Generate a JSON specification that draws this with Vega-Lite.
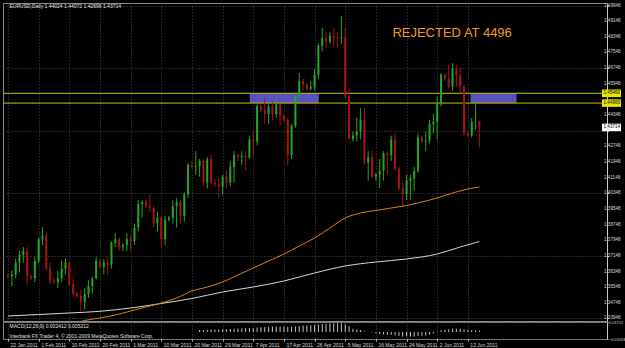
{
  "$schema": "https://vega.github.io/schema/vega-lite/v6.json",
  "background": "#000000",
  "padding": {"left": 2, "top": 2, "right": 0, "bottom": 0},
  "spacing": 1,
  "bounds": "flush",
  "config": {
    "view": {"stroke": "#8a8a8a", "strokeWidth": 1},
    "font": "Liberation Sans",
    "axis": {"labelFont": "Liberation Sans", "labelFontSize": 4.6, "labelColor": "#d8d8d8", "tickColor": "#c8c8c8", "domainColor": "#c8c8c8", "gridColor": "#4a4a4a", "gridDash": [1, 2], "gridWidth": 1, "title": null, "minExtent": 0, "labelOverlap": false, "labelBound": false}
  },
  "datasets": {
    "candles": [
      {"i":0,"o":1.3614,"h":1.3625,"l":1.36,"c":1.361},
      {"i":1,"o":1.361,"h":1.364,"l":1.356,"c":1.362},
      {"i":2,"o":1.362,"h":1.37,"l":1.36,"c":1.368},
      {"i":3,"o":1.368,"h":1.374,"l":1.363,"c":1.372},
      {"i":4,"o":1.372,"h":1.376,"l":1.368,"c":1.374},
      {"i":5,"o":1.374,"h":1.376,"l":1.357,"c":1.361},
      {"i":6,"o":1.361,"h":1.362,"l":1.359,"c":1.36},
      {"i":7,"o":1.36,"h":1.371,"l":1.358,"c":1.369},
      {"i":8,"o":1.369,"h":1.381,"l":1.368,"c":1.38},
      {"i":9,"o":1.38,"h":1.3862,"l":1.377,"c":1.382},
      {"i":10,"o":1.382,"h":1.3835,"l":1.364,"c":1.365},
      {"i":11,"o":1.365,"h":1.368,"l":1.357,"c":1.359},
      {"i":12,"o":1.359,"h":1.36,"l":1.357,"c":1.358},
      {"i":13,"o":1.358,"h":1.364,"l":1.355,"c":1.36},
      {"i":14,"o":1.36,"h":1.369,"l":1.358,"c":1.365},
      {"i":15,"o":1.365,"h":1.37,"l":1.362,"c":1.368},
      {"i":16,"o":1.368,"h":1.369,"l":1.356,"c":1.357},
      {"i":17,"o":1.357,"h":1.36,"l":1.351,"c":1.352},
      {"i":18,"o":1.352,"h":1.353,"l":1.35,"c":1.351},
      {"i":19,"o":1.351,"h":1.354,"l":1.343,"c":1.348},
      {"i":20,"o":1.348,"h":1.355,"l":1.344,"c":1.352},
      {"i":21,"o":1.352,"h":1.359,"l":1.35,"c":1.356},
      {"i":22,"o":1.356,"h":1.361,"l":1.352,"c":1.36},
      {"i":23,"o":1.36,"h":1.371,"l":1.3595,"c":1.369},
      {"i":24,"o":1.369,"h":1.37,"l":1.365,"c":1.366},
      {"i":25,"o":1.366,"h":1.37,"l":1.362,"c":1.368},
      {"i":26,"o":1.368,"h":1.371,"l":1.362,"c":1.367},
      {"i":27,"o":1.367,"h":1.379,"l":1.365,"c":1.378},
      {"i":28,"o":1.378,"h":1.383,"l":1.376,"c":1.38},
      {"i":29,"o":1.38,"h":1.381,"l":1.374,"c":1.376},
      {"i":30,"o":1.376,"h":1.378,"l":1.374,"c":1.377},
      {"i":31,"o":1.377,"h":1.383,"l":1.374,"c":1.38},
      {"i":32,"o":1.38,"h":1.382,"l":1.374,"c":1.379},
      {"i":33,"o":1.379,"h":1.388,"l":1.377,"c":1.386},
      {"i":34,"o":1.386,"h":1.4,"l":1.384,"c":1.398},
      {"i":35,"o":1.398,"h":1.4,"l":1.391,"c":1.399},
      {"i":36,"o":1.399,"h":1.4,"l":1.396,"c":1.397},
      {"i":37,"o":1.397,"h":1.403,"l":1.394,"c":1.396},
      {"i":38,"o":1.396,"h":1.397,"l":1.386,"c":1.388},
      {"i":39,"o":1.388,"h":1.394,"l":1.384,"c":1.391},
      {"i":40,"o":1.391,"h":1.392,"l":1.376,"c":1.38},
      {"i":41,"o":1.38,"h":1.392,"l":1.377,"c":1.39},
      {"i":42,"o":1.39,"h":1.392,"l":1.389,"c":1.391},
      {"i":43,"o":1.391,"h":1.4,"l":1.388,"c":1.397},
      {"i":44,"o":1.397,"h":1.401,"l":1.386,"c":1.399},
      {"i":45,"o":1.399,"h":1.4,"l":1.388,"c":1.392},
      {"i":46,"o":1.392,"h":1.404,"l":1.389,"c":1.403},
      {"i":47,"o":1.403,"h":1.419,"l":1.401,"c":1.418},
      {"i":48,"o":1.418,"h":1.42,"l":1.416,"c":1.417},
      {"i":49,"o":1.417,"h":1.425,"l":1.413,"c":1.4175},
      {"i":50,"o":1.4175,"h":1.421,"l":1.412,"c":1.42},
      {"i":51,"o":1.42,"h":1.421,"l":1.407,"c":1.409},
      {"i":52,"o":1.409,"h":1.422,"l":1.406,"c":1.421},
      {"i":53,"o":1.421,"h":1.423,"l":1.408,"c":1.409},
      {"i":54,"o":1.409,"h":1.411,"l":1.407,"c":1.408},
      {"i":55,"o":1.408,"h":1.411,"l":1.401,"c":1.407},
      {"i":56,"o":1.407,"h":1.413,"l":1.403,"c":1.412},
      {"i":57,"o":1.412,"h":1.415,"l":1.406,"c":1.409},
      {"i":58,"o":1.409,"h":1.42,"l":1.407,"c":1.417},
      {"i":59,"o":1.417,"h":1.425,"l":1.409,"c":1.423},
      {"i":60,"o":1.423,"h":1.424,"l":1.42,"c":1.422},
      {"i":61,"o":1.422,"h":1.425,"l":1.418,"c":1.4225},
      {"i":62,"o":1.4225,"h":1.425,"l":1.415,"c":1.4218},
      {"i":63,"o":1.4218,"h":1.433,"l":1.421,"c":1.431},
      {"i":64,"o":1.431,"h":1.435,"l":1.422,"c":1.43},
      {"i":65,"o":1.43,"h":1.449,"l":1.428,"c":1.448},
      {"i":66,"o":1.448,"h":1.449,"l":1.445,"c":1.446},
      {"i":67,"o":1.446,"h":1.452,"l":1.439,"c":1.444},
      {"i":68,"o":1.444,"h":1.449,"l":1.439,"c":1.448},
      {"i":69,"o":1.448,"h":1.45,"l":1.441,"c":1.444},
      {"i":70,"o":1.444,"h":1.452,"l":1.442,"c":1.449},
      {"i":71,"o":1.449,"h":1.4495,"l":1.438,"c":1.443},
      {"i":72,"o":1.443,"h":1.444,"l":1.44,"c":1.441},
      {"i":73,"o":1.441,"h":1.442,"l":1.418,"c":1.423},
      {"i":74,"o":1.423,"h":1.439,"l":1.421,"c":1.438},
      {"i":75,"o":1.438,"h":1.455,"l":1.437,"c":1.453},
      {"i":76,"o":1.453,"h":1.465,"l":1.452,"c":1.461},
      {"i":77,"o":1.461,"h":1.462,"l":1.456,"c":1.459},
      {"i":78,"o":1.459,"h":1.46,"l":1.456,"c":1.457},
      {"i":79,"o":1.457,"h":1.461,"l":1.456,"c":1.458},
      {"i":80,"o":1.458,"h":1.467,"l":1.456,"c":1.464},
      {"i":81,"o":1.464,"h":1.48,"l":1.462,"c":1.479},
      {"i":82,"o":1.479,"h":1.488,"l":1.476,"c":1.483},
      {"i":83,"o":1.483,"h":1.486,"l":1.478,"c":1.481},
      {"i":84,"o":1.481,"h":1.486,"l":1.48,"c":1.484},
      {"i":85,"o":1.484,"h":1.488,"l":1.478,"c":1.483},
      {"i":86,"o":1.483,"h":1.486,"l":1.478,"c":1.4826},
      {"i":87,"o":1.4826,"h":1.494,"l":1.48,"c":1.4831},
      {"i":88,"o":1.4831,"h":1.488,"l":1.452,"c":1.453},
      {"i":89,"o":1.453,"h":1.457,"l":1.431,"c":1.4312},
      {"i":90,"o":1.4312,"h":1.435,"l":1.43,"c":1.433},
      {"i":91,"o":1.433,"h":1.442,"l":1.43,"c":1.435},
      {"i":92,"o":1.435,"h":1.447,"l":1.431,"c":1.441},
      {"i":93,"o":1.441,"h":1.447,"l":1.418,"c":1.419},
      {"i":94,"o":1.419,"h":1.425,"l":1.41,"c":1.422},
      {"i":95,"o":1.422,"h":1.425,"l":1.411,"c":1.412},
      {"i":96,"o":1.412,"h":1.414,"l":1.41,"c":1.413},
      {"i":97,"o":1.413,"h":1.421,"l":1.406,"c":1.415},
      {"i":98,"o":1.415,"h":1.425,"l":1.41,"c":1.424},
      {"i":99,"o":1.424,"h":1.425,"l":1.413,"c":1.423},
      {"i":100,"o":1.423,"h":1.433,"l":1.42,"c":1.431},
      {"i":101,"o":1.431,"h":1.434,"l":1.415,"c":1.416},
      {"i":102,"o":1.416,"h":1.417,"l":1.405,"c":1.406},
      {"i":103,"o":1.406,"h":1.409,"l":1.397,"c":1.403},
      {"i":104,"o":1.403,"h":1.413,"l":1.4,"c":1.41},
      {"i":105,"o":1.41,"h":1.413,"l":1.4,"c":1.411},
      {"i":106,"o":1.411,"h":1.417,"l":1.405,"c":1.415},
      {"i":107,"o":1.415,"h":1.434,"l":1.414,"c":1.432},
      {"i":108,"o":1.432,"h":1.433,"l":1.429,"c":1.43},
      {"i":109,"o":1.43,"h":1.435,"l":1.425,"c":1.4305},
      {"i":110,"o":1.4305,"h":1.441,"l":1.429,"c":1.439},
      {"i":111,"o":1.439,"h":1.444,"l":1.434,"c":1.44},
      {"i":112,"o":1.44,"h":1.453,"l":1.431,"c":1.449},
      {"i":113,"o":1.449,"h":1.465,"l":1.448,"c":1.464},
      {"i":114,"o":1.464,"h":1.465,"l":1.461,"c":1.462},
      {"i":115,"o":1.462,"h":1.469,"l":1.457,"c":1.458},
      {"i":116,"o":1.458,"h":1.47,"l":1.456,"c":1.467},
      {"i":117,"o":1.467,"h":1.469,"l":1.458,"c":1.464},
      {"i":118,"o":1.464,"h":1.468,"l":1.455,"c":1.458},
      {"i":119,"o":1.458,"h":1.459,"l":1.433,"c":1.434},
      {"i":120,"o":1.434,"h":1.435,"l":1.432,"c":1.433},
      {"i":121,"o":1.433,"h":1.442,"l":1.432,"c":1.44},
      {"i":122,"o":1.44,"h":1.449,"l":1.436,"c":1.44024},
      {"i":123,"o":1.44024,"h":1.44072,"l":1.42696,"c":1.43714}
    ],
    "ma": [
      {"s":"o","i":12,"v":1.33309},{"s":"o","i":20,"v":1.33846},{"s":"o","i":24,"v":1.33974},{"s":"o","i":28,"v":1.34127},
      {"s":"o","i":32,"v":1.34331},{"s":"o","i":36,"v":1.34536},{"s":"o","i":40,"v":1.3474},{"s":"o","i":44,"v":1.34996},
      {"s":"o","i":48,"v":1.35354},{"s":"o","i":52,"v":1.35558},{"s":"o","i":56,"v":1.35814},{"s":"o","i":60,"v":1.36172},
      {"s":"o","i":64,"v":1.3653},{"s":"o","i":68,"v":1.36887},{"s":"o","i":72,"v":1.37245},{"s":"o","i":76,"v":1.37654},
      {"s":"o","i":80,"v":1.38063},{"s":"o","i":84,"v":1.38574},{"s":"o","i":88,"v":1.39085},{"s":"o","i":92,"v":1.39341},
      {"s":"o","i":96,"v":1.39469},{"s":"o","i":100,"v":1.39597},{"s":"o","i":104,"v":1.39724},{"s":"o","i":108,"v":1.39903},
      {"s":"o","i":112,"v":1.40108},{"s":"o","i":116,"v":1.40363},{"s":"o","i":120,"v":1.40568},{"s":"o","i":123,"v":1.4067},
      {"s":"w","i":0,"v":1.34076},{"s":"w","i":8,"v":1.34152},{"s":"w","i":16,"v":1.34229},{"s":"w","i":24,"v":1.34316},
      {"s":"w","i":32,"v":1.34485},{"s":"w","i":40,"v":1.34715},{"s":"w","i":48,"v":1.3497},{"s":"w","i":56,"v":1.35303},
      {"s":"w","i":64,"v":1.35558},{"s":"w","i":72,"v":1.35865},{"s":"w","i":80,"v":1.36274},{"s":"w","i":88,"v":1.36632},
      {"s":"w","i":96,"v":1.36836},{"s":"w","i":104,"v":1.3699},{"s":"w","i":112,"v":1.37245},{"s":"w","i":118,"v":1.37603},
      {"s":"w","i":123,"v":1.37884}
    ],
    "macd": [
      {"i":50,"m":0.0035},{"i":51,"m":0.0038},{"i":52,"m":0.0042},{"i":53,"m":0.0044},{"i":54,"m":0.0045},{"i":55,"m":0.0046},
      {"i":56,"m":0.0048},{"i":57,"m":0.005},{"i":58,"m":0.0052},{"i":59,"m":0.0056},{"i":60,"m":0.006},{"i":61,"m":0.0062},
      {"i":62,"m":0.0064},{"i":63,"m":0.0068},{"i":64,"m":0.007},{"i":65,"m":0.0078},{"i":66,"m":0.0084},{"i":67,"m":0.0088},
      {"i":68,"m":0.0092},{"i":69,"m":0.0094},{"i":70,"m":0.0097},{"i":71,"m":0.0097},{"i":72,"m":0.0096},{"i":73,"m":0.009},
      {"i":74,"m":0.009},{"i":75,"m":0.0096},{"i":76,"m":0.0105},{"i":77,"m":0.011},{"i":78,"m":0.0113},{"i":79,"m":0.0116},
      {"i":80,"m":0.012},{"i":81,"m":0.013},{"i":82,"m":0.0138},{"i":83,"m":0.0143},{"i":84,"m":0.0147},{"i":85,"m":0.015},
      {"i":86,"m":0.015},{"i":87,"m":0.015},{"i":88,"m":0.0135},{"i":89,"m":0.0105},{"i":90,"m":0.0055},{"i":91,"m":0.004},
      {"i":92,"m":0.0035},{"i":93,"m":0.0012},{"i":94,"m":0.0004},{"i":95,"m":-0.0005},{"i":96,"m":-0.0025},{"i":97,"m":-0.0035},
      {"i":98,"m":-0.004},{"i":99,"m":-0.0045},{"i":100,"m":-0.005},{"i":101,"m":-0.0058},{"i":102,"m":-0.0065},{"i":103,"m":-0.0072},
      {"i":104,"m":-0.0075},{"i":105,"m":-0.0075},{"i":106,"m":-0.0072},{"i":107,"m":-0.0065},{"i":108,"m":-0.006},{"i":109,"m":-0.0055},
      {"i":110,"m":-0.0045},{"i":111,"m":-0.0025},{"i":112,"m":0.001},{"i":113,"m":0.003},{"i":114,"m":0.004},{"i":115,"m":0.005},
      {"i":116,"m":0.0056},{"i":117,"m":0.0058},{"i":118,"m":0.0056},{"i":119,"m":0.005},{"i":120,"m":0.0042},{"i":121,"m":0.0035},
      {"i":122,"m":0.003},{"i":123,"m":0.0024}
    ],
    "yticks": [
      {"p":1.33948,"t":"1.33948"},{"p":1.34748,"t":"1.34748"},{"p":1.35548,"t":"1.35548"},{"p":1.36348,"t":"1.36348"},
      {"p":1.37148,"t":"1.37148"},{"p":1.37948,"t":"1.37948"},{"p":1.38748,"t":"1.38748"},{"p":1.39548,"t":"1.39548"},
      {"p":1.40348,"t":"1.40348"},{"p":1.41148,"t":"1.41148"},{"p":1.41948,"t":"1.41948"},{"p":1.42748,"t":"1.42748"},
      {"p":1.44348,"t":"1.44348"},{"p":1.45948,"t":"1.45948"},{"p":1.46748,"t":"1.46748"},{"p":1.47548,"t":"1.47548"},
      {"p":1.48348,"t":"1.48348"},{"p":1.49148,"t":"1.49148"},{"p":1.49948,"t":"1.49948"}
    ],
    "levels": [
      {"price":1.4546,"label":"1.45460","kind":"yellow"},
      {"price":1.4496,"label":"1.44960","kind":"yellow"},
      {"price":1.43714,"label":"1.43714","kind":"white"}
    ],
    "zones": [
      {"i1":63.1,"i2":81.1,"p1":1.4496,"p2":1.4546},
      {"i1":120.7,"i2":132.7,"p1":1.4496,"p2":1.4546}
    ],
    "notes": [
      {"i":0.4,"p":1.4994,"text":"EURUSD,Daily  1.44024 1.44072 1.42696 1.43714","kind":"title"},
      {"i":100.3,"p":1.4853,"text":"REJECTED AT  4496","kind":"orange"}
    ],
    "panelnotes": [
      {"i":0.4,"m":0.0104,"text":"MACD(12,26,9) 0.002412 0.005212"},
      {"i":0.4,"m":-0.0066,"text":"Interbank FX Trader 4, © 2001-2009 MetaQuotes Software Corp."}
    ]
  },
  "vconcat": [
    {
      "width": 604,
      "height": 318,
      "layer": [
        {
          "data": {"name": "zones"},
          "mark": {"type": "rect", "color": "#5a52bc", "clip": true},
          "encoding": {
            "x": {"field": "i1", "type": "quantitative", "scale": {"domain": [0, 155], "nice": false, "zero": false},
              "axis": {"values": [0,8,16,24,32,40,48,56,64,72,80,88,96,104,112,120], "labels": false, "ticks": false, "domain": false, "grid": true, "maxExtent": 0, "minExtent": 0, "labelPadding": 0}},
            "x2": {"field": "i2"},
            "y": {"field": "p1", "type": "quantitative", "scale": {"domain": [1.3382, 1.50076], "nice": false, "zero": false},
              "axis": {"orient": "right", "values": [1.33948,1.34748,1.35548,1.36348,1.37148,1.37948,1.38748,1.39548,1.40348,1.41148,1.41948,1.42748,1.43548,1.44348,1.45148,1.45948,1.46748,1.47548,1.48348,1.49148,1.49948],
                "labels": false, "tickSize": 1.5, "grid": true, "domain": true, "maxExtent": 2, "minExtent": 0}},
            "y2": {"field": "p2"}
          }
        },
        {
          "data": {"name": "levels"},
          "transform": [{"filter": "datum.kind == 'yellow'"}],
          "mark": {"type": "rule", "color": "#c8c800", "strokeWidth": 1},
          "encoding": {"y": {"field": "price", "type": "quantitative"}}
        },
        {
          "data": {"name": "ma"},
          "transform": [{"filter": "datum.s == 'w'"}],
          "mark": {"type": "line", "color": "#d8d8d8", "strokeWidth": 1, "clip": true, "interpolate": "monotone"},
          "encoding": {"x": {"field": "i", "type": "quantitative"}, "y": {"field": "v", "type": "quantitative"}}
        },
        {
          "data": {"name": "ma"},
          "transform": [{"filter": "datum.s == 'o'"}],
          "mark": {"type": "line", "color": "#d98218", "strokeWidth": 1, "clip": true, "interpolate": "monotone"},
          "encoding": {"x": {"field": "i", "type": "quantitative"}, "y": {"field": "v", "type": "quantitative"}}
        },
        {
          "data": {"name": "candles"},
          "mark": {"type": "rule", "strokeWidth": 1, "clip": true},
          "encoding": {
            "x": {"field": "i", "type": "quantitative"},
            "y": {"field": "l", "type": "quantitative"},
            "y2": {"field": "h"},
            "color": {"condition": {"test": "datum.c >= datum.o", "value": "#22a822"}, "value": "#a81414"}
          }
        },
        {
          "data": {"name": "candles"},
          "mark": {"type": "bar", "width": 2, "clip": true},
          "encoding": {
            "x": {"field": "i", "type": "quantitative"},
            "y": {"field": "o", "type": "quantitative"},
            "y2": {"field": "c"},
            "color": {"condition": {"test": "datum.c >= datum.o", "value": "#22a822"}, "value": "#a81414"}
          }
        },
        {
          "data": {"name": "notes"},
          "transform": [{"filter": "datum.kind == 'title'"}],
          "mark": {"type": "text", "align": "left", "baseline": "middle", "fontSize": 5, "color": "#e8e8e8"},
          "encoding": {"x": {"field": "i", "type": "quantitative"}, "y": {"field": "p", "type": "quantitative"}, "text": {"field": "text"}}
        },
        {
          "data": {"name": "notes"},
          "transform": [{"filter": "datum.kind == 'orange'"}],
          "mark": {"type": "text", "align": "left", "baseline": "middle", "fontSize": 13, "color": "#f29a1f"},
          "encoding": {"x": {"field": "i", "type": "quantitative"}, "y": {"field": "p", "type": "quantitative"}, "text": {"field": "text"}}
        },
        {
          "data": {"name": "yticks"},
          "mark": {"type": "text", "align": "left", "baseline": "middle", "dx": 2, "fontSize": 4.6, "color": "#d8d8d8", "clip": false},
          "encoding": {
            "x": {"datum": 155},
            "y": {"field": "p", "type": "quantitative"},
            "text": {"field": "t"}
          }
        },
        {
          "data": {"name": "levels"},
          "mark": {"type": "point", "shape": "M0,-0.38L1.9,-0.38L1.9,0.38L0,0.38Z", "size": 400, "filled": true, "opacity": 1, "strokeWidth": 0, "clip": false},
          "encoding": {
            "x": {"datum": 155},
            "y": {"field": "price", "type": "quantitative"},
            "color": {"condition": {"test": "datum.kind == 'yellow'", "value": "#e6e600"}, "value": "#ffffff"}
          }
        },
        {
          "data": {"name": "levels"},
          "mark": {"type": "text", "align": "left", "baseline": "middle", "dx": 1.5, "fontSize": 4.6, "color": "#000000", "clip": false},
          "encoding": {
            "x": {"datum": 155},
            "y": {"field": "price", "type": "quantitative"},
            "text": {"field": "label"}
          }
        }
      ]
    },
    {
      "width": 604,
      "height": 17,
      "layer": [
        {
          "data": {"name": "macd"},
          "mark": {"type": "bar", "width": 1, "color": "#c0c0c0"},
          "encoding": {
            "x": {"field": "i", "type": "quantitative", "scale": {"domain": [0, 155], "nice": false, "zero": false},
              "axis": {"values": [0,8,16,24,32,40,48,56,64,72,80,88,96,104,112,120],
                "labelExpr": "['22 Jan 2011','1 Feb 2011','10 Feb 2011','20 Feb 2011','1 Mar 2011','10 Mar 2011','20 Mar 2011','29 Mar 2011','7 Apr 2011','17 Apr 2011','26 Apr 2011','5 May 2011','16 May 2011','24 May 2011','2 Jun 2011','12 Jun 2011'][round(datum.value/8)]",
                "labelAlign": "left", "labelOffset": 2, "labelFontSize": 5, "labelPadding": 1, "tickSize": 2, "labelOverlap": false, "labelBound": false, "labelFlush": false, "domain": false, "grid": true}},
            "y": {"field": "m", "type": "quantitative", "scale": {"domain": [-0.01163, 0.01712], "nice": false, "zero": false},
              "axis": {"orient": "right", "values": [-0.01163, 0, 0.01712], "labelExpr": "datum.value == 0 ? '0.00' : format(datum.value, '.5f')", "labelFontSize": 3.9, "tickSize": 1, "labelPadding": 0.5, "grid": true, "labelOverlap": false, "labelBound": false}},
            "y2": {"datum": 0}
          }
        },
        {
          "data": {"name": "panelnotes"},
          "mark": {"type": "text", "align": "left", "baseline": "middle", "fontSize": 5, "color": "#e0e0e0"},
          "encoding": {"x": {"field": "i", "type": "quantitative"}, "y": {"field": "m", "type": "quantitative"}, "text": {"field": "text"}}
        }
      ]
    }
  ]
}
